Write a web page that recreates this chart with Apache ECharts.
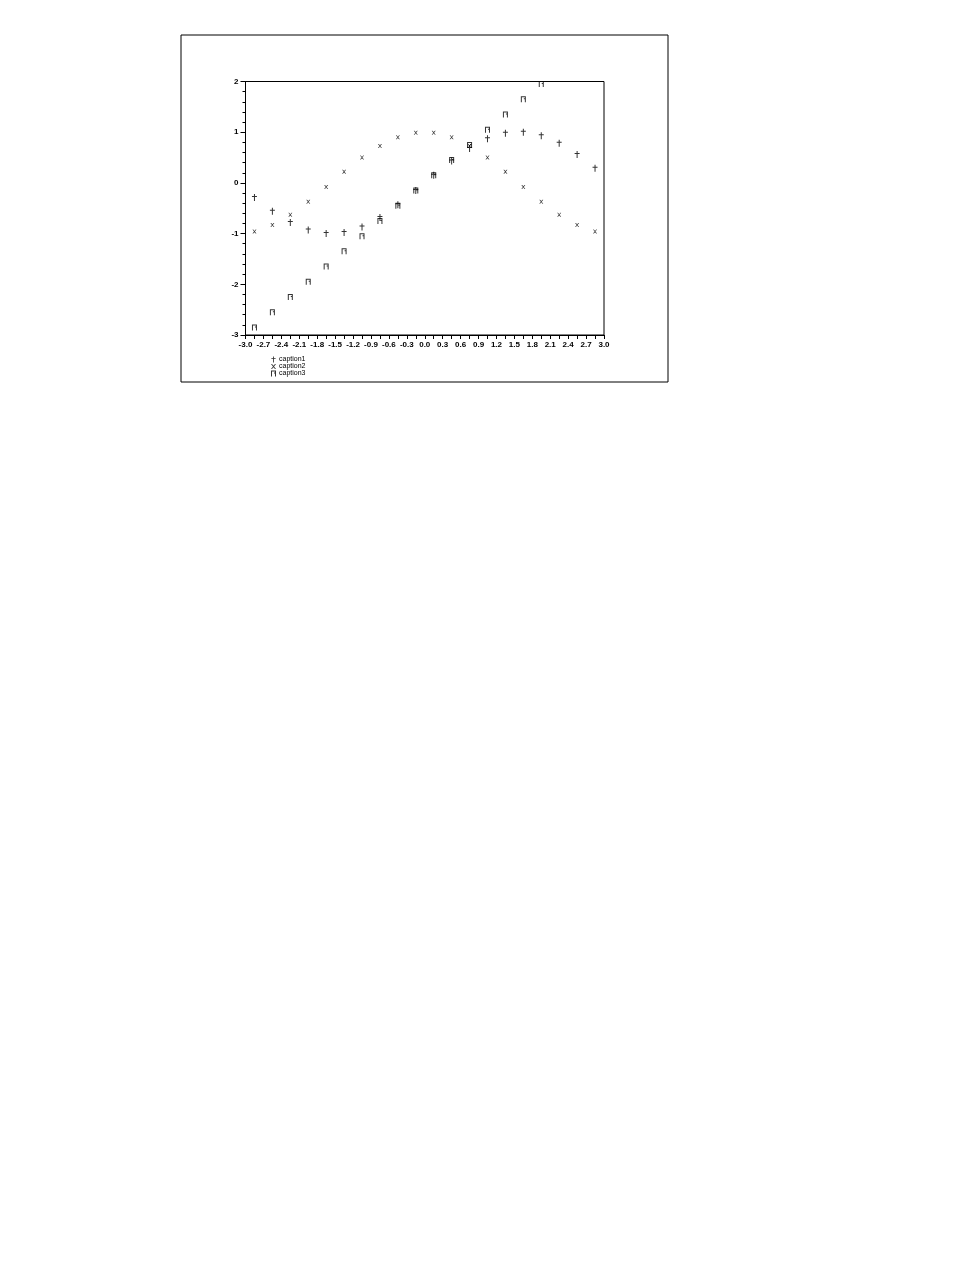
<!DOCTYPE html>
<html>
<head>
<meta charset="utf-8">
<script src="https://cdn.jsdelivr.net/npm/echarts@6/dist/echarts.min.js"></script>
<style>html,body{margin:0;padding:0;background:#fff;}#c{width:978px;height:1265px;}</style>
</head>
<body>
<div id="c"></div>
<script>
var xValues = [-2.85,-2.55,-2.25,-1.95,-1.65,-1.35,-1.05,-0.75,-0.45,-0.15,0.15,0.45,0.75,1.05,1.35,1.65,1.95,2.25,2.55,2.85];
var caption1 = [-0.29,-0.56,-0.78,-0.93,-1.00,-0.98,-0.87,-0.68,-0.43,-0.15,0.15,0.43,0.68,0.87,0.98,1.00,0.93,0.78,0.56,0.29];
var caption2 = [-0.96,-0.83,-0.63,-0.37,-0.08,0.22,0.50,0.73,0.90,0.99,0.99,0.90,0.73,0.50,0.22,-0.08,-0.37,-0.63,-0.83,-0.96];
var caption3 = [-2.85,-2.55,-2.25,-1.95,-1.65,-1.35,-1.05,-0.75,-0.45,-0.15,0.15,0.45,0.75,1.05,1.35,1.65,1.95,2.25,2.55,2.85];
var seriesNames = ['caption1','caption2','caption3'];

function pairs(ys){ return xValues.map(function(x,i){ return [x, ys[i]]; }); }

var symPlus = 'path://M2,0L3,0L3,7L2,7Z M0,2L5,2L5,3L0,3Z';
var symCross = 'path://M0,0L1,0L2.5,1.7L4,0L5,0L3,2.5L5,5L4,5L2.5,3.3L1,5L0,5L2,2.5Z';
var symSquare = 'path://M0,0L5,0L5,6L4,6L4,1L1,1L1,6L0,6Z M3,2L4,2L4,3L3,3Z';

var chart = echarts.init(document.getElementById('c'), null, {renderer:'canvas'});
var font = 'Liberation Sans';
chart.setOption({
  animation: false,
  backgroundColor: '#fff',
  graphic: [{
    type: 'rect',
    shape: {x: 181, y: 35, width: 487, height: 347},
    style: {fill: 'none', stroke: '#000', lineWidth: 1}
  }],
  grid: {left: 245.5, top: 81.5, width: 358.5, height: 253.5, show: true, borderColor: '#000', borderWidth: 1, backgroundColor: 'transparent'},
  legend: {
    orient: 'vertical', left: 271, top: 356, itemGap: 0, itemWidth: 5, itemHeight: 6,
    data: seriesNames,
    textStyle: {fontFamily: font, fontSize: 7, color: '#000', padding: [0,0,0,-2]},
    padding: 0
  },
  xAxis: {
    type: 'value', min: -3, max: 3, interval: 0.3,
    splitLine: {show: false},
    axisLine: {onZero: false, lineStyle: {color: '#000', width: 1}},
    axisTick: {length: 4, lineStyle: {color: '#000'}},
    minorTick: {show: true, splitNumber: 2, length: 4, lineStyle: {color: '#000'}},
    axisLabel: {fontFamily: font, fontSize: 8, fontWeight: 'bold', color: '#000', margin: 6,
      formatter: function(v){ return (Math.abs(v) < 1e-9 ? 0 : v).toFixed(1); }}
  },
  yAxis: {
    type: 'value', min: -3, max: 2, interval: 1,
    splitLine: {show: false},
    axisLine: {onZero: false, lineStyle: {color: '#000', width: 1}},
    axisTick: {length: 5, lineStyle: {color: '#000'}},
    minorTick: {show: true, splitNumber: 5, length: 3, lineStyle: {color: '#000'}},
    axisLabel: {fontFamily: font, fontSize: 8, fontWeight: 'bold', color: '#000', margin: 7}
  },
  series: [
    {name: seriesNames[0], type: 'scatter', data: pairs(caption1), symbol: symPlus, symbolSize: [5,7], itemStyle: {color: '#000'}, clip: true},
    {name: seriesNames[1], type: 'scatter', data: pairs(caption2), symbol: symCross, symbolSize: [4,4], itemStyle: {color: '#000'}, clip: true},
    {name: seriesNames[2], type: 'scatter', data: pairs(caption3), symbol: symSquare, symbolSize: [5,6], itemStyle: {color: '#000'}, clip: true}
  ]
});
</script>
</body>
</html>
